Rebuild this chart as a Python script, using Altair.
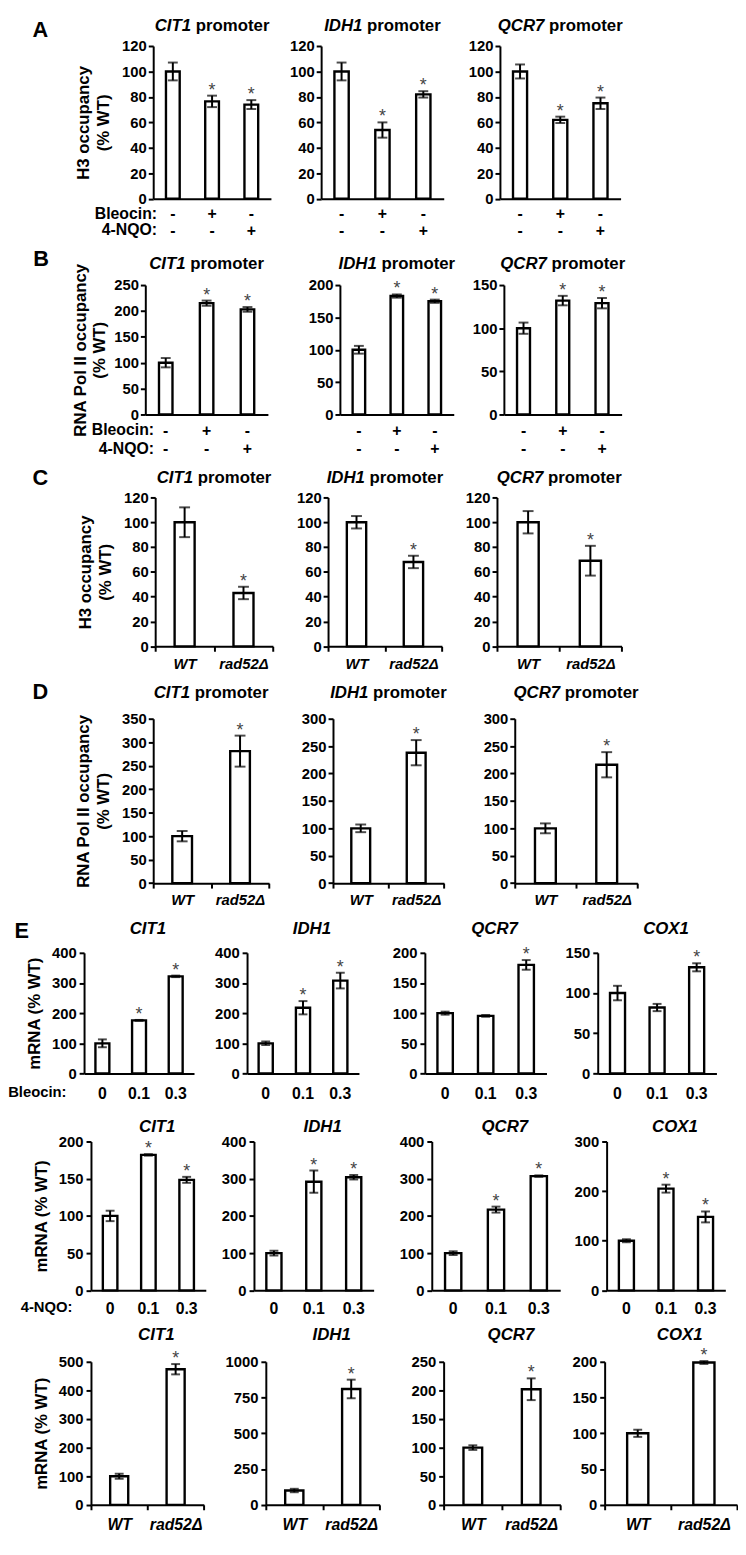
import altair as alt
import pandas as pd

FONT = "Liberation Sans, Arial, Helvetica, sans-serif"

# ------------------------------------------------------------------ data
TREATMENTS = ["-|-", "+|-", "-|+"]          # Bleocin | 4-NQO
GENOTYPES = ["WT", "rad52Δ"]
DOSES = ["0", "0.1", "0.3"]
PROMOTER_GENES = ["CIT1", "IDH1", "QCR7"]
MRNA_GENES = ["CIT1", "IDH1", "QCR7", "COX1"]

A_VALUES = [[100, 76.5, 74], [100, 54, 82], [100, 62, 75]]
A_ERRORS = [[7, 4.5, 3.5], [7, 6, 2.5], [5.5, 2.5, 4.5]]
A_SIG = [[0, 1, 1], [0, 1, 1], [0, 1, 1]]
A_YMAX = [120, 120, 120]
A_YSTEP = [20, 20, 20]

B_VALUES = [[100, 215, 203], [100, 183, 175], [100, 132, 129]]
B_ERRORS = [[9, 5, 4.5], [6, 2.5, 2.5], [6.5, 5.5, 6]]
B_SIG = [[0, 1, 1], [0, 1, 1], [0, 1, 1]]
B_YMAX = [250, 200, 150]
B_YSTEP = [50, 50, 50]

C_VALUES = [[100, 43], [100, 68], [100, 69]]
C_ERRORS = [[12, 5], [5, 5], [9, 12]]
C_SIG = [[0, 1], [0, 1], [0, 1]]
C_YMAX = [120, 120, 120]
C_YSTEP = [20, 20, 20]

D_VALUES = [[100, 281], [100, 238], [100, 216]]
D_ERRORS = [[11, 33], [7, 23], [9, 23]]
D_SIG = [[0, 1], [0, 1], [0, 1]]
D_YMAX = [350, 300, 300]
D_YSTEP = [50, 50, 50]

E1_VALUES = [[100, 176, 322], [100, 218, 308], [100, 95.5, 180], [100, 82, 132]]
E1_ERRORS = [[13, 1.5, 2.5], [6, 22, 26], [2.5, 1.5, 8], [9, 4.5, 5]]
E1_SIG = [[0, 1, 1], [0, 1, 1], [0, 0, 1], [0, 0, 1]]
E1_YMAX = [400, 400, 200, 150]
E1_YSTEP = [100, 100, 50, 50]

E2_VALUES = [[100, 182, 148.5], [100, 292, 304], [100, 217, 307], [100, 205, 148]]
E2_ERRORS = [[7, 1, 4], [6.5, 30, 6], [5, 8, 2], [3, 8, 11]]
E2_SIG = [[0, 1, 1], [0, 1, 1], [0, 1, 1], [0, 1, 1]]
E2_YMAX = [200, 400, 400, 300]
E2_YSTEP = [50, 100, 100, 100]

E3_VALUES = [[100, 474], [100, 810], [100, 202], [100, 199]]
E3_ERRORS = [[9, 18], [12, 65], [4, 19], [5, 2]]
E3_SIG = [[0, 1], [0, 1], [0, 1], [0, 1]]
E3_YMAX = [500, 1000, 250, 200]
E3_YSTEP = [100, 250, 50, 50]

Y_TITLE_H3 = ["H3 occupancy", "(% WT)"]
Y_TITLE_POL2 = ["RNA Pol II occupancy", "(% WT)"]
Y_TITLE_MRNA = "mRNA (% WT)"

# ------------------------------------------------------------------ layout (reference pixel positions)
def X(v):
    return (v - 3.0) * 0.985 + 8.0


def Y(v):
    return (v - 2.0) * 0.985


ROW_BOUNDS = [2, 235, 458, 677, 917, 1118, 1333, 1553]

GEOM = [
    dict(top=30, bottom=187, xs=[(143, 264), (314, 440), (496, 620)], title_y=10, title_dx=0,
         letter=("A", 27, 14), rowlab=(["Bleocin:", "4-NQO:"], 147), xlab_pad=7, line_h=17),
    dict(top=275, bottom=408, xs=[(134, 260), (333, 450), (500, 621)], title_y=253, title_dx=0,
         letter=("B", 27, 248), rowlab=(["Bleocin:", "4-NQO:"], 143), xlab_pad=8, line_h=19),
    dict(top=492, bottom=645, xs=[(145, 266), (321, 438), (493, 621)], title_y=472, title_dx=0,
         letter=("C", 27, 472), rowlab=None, xlab_pad=5, line_h=16),
    dict(top=718, bottom=887, xs=[(143, 262), (326, 440), (512, 638)], title_y=692, title_dx=0,
         letter=("D", 27, 691), rowlab=None, xlab_pad=5, line_h=16),
    dict(top=957, bottom=1081, xs=[(72, 185), (238, 353), (420, 545), (596, 718)], title_y=933, title_dx=9,
         letter=("E", 8, 935), rowlab=(["Bleocin:"], 54), xlab_pad=12, line_h=17),
    dict(top=1150, bottom=1303, xs=[(79, 197), (245, 368), (426, 558), (604, 726)], title_y=1135, title_dx=9,
         letter=None, rowlab=(["4-NQO:"], 60), xlab_pad=10, line_h=17),
    dict(top=1375, bottom=1522, xs=[(79, 195), (257, 374), (438, 558), (602, 738)], title_y=1348, title_dx=9,
         letter=None, rowlab=None, xlab_pad=7, line_h=16),
]

STYLE_PROM = dict(xkind="treat", xsize=16, ysize=15, ypad=2, cap=10, bw=0.35, promoter=True, tpad=9,
                  rowlab_size=16)
STYLE_GENO = dict(xkind="geno", xsize=15, ysize=15, ypad=2, cap=11, bw=0.34, promoter=True, tpad=9,
                  rowlab_size=15)
STYLE_DOSE = dict(xkind="dose", xsize=16, ysize=15, ypad=3, cap=9, bw=0.38, promoter=False, tpad=8,
                  rowlab_size=15)
STYLE_MUT = dict(xkind="geno", xsize=16, ysize=15, ypad=3, cap=9, bw=0.32, promoter=False, tpad=8,
                 rowlab_size=15)

ROWS = [
    dict(genes=PROMOTER_GENES, cats=TREATMENTS, v=A_VALUES, e=A_ERRORS, s=A_SIG, ymax=A_YMAX, ystep=A_YSTEP,
         ytitle=Y_TITLE_H3, style=STYLE_PROM),
    dict(genes=PROMOTER_GENES, cats=TREATMENTS, v=B_VALUES, e=B_ERRORS, s=B_SIG, ymax=B_YMAX, ystep=B_YSTEP,
         ytitle=Y_TITLE_POL2, style=dict(STYLE_PROM, bw=0.33, tpad=5)),
    dict(genes=PROMOTER_GENES, cats=GENOTYPES, v=C_VALUES, e=C_ERRORS, s=C_SIG, ymax=C_YMAX, ystep=C_YSTEP,
         ytitle=Y_TITLE_H3, style=STYLE_GENO),
    dict(genes=PROMOTER_GENES, cats=GENOTYPES, v=D_VALUES, e=D_ERRORS, s=D_SIG, ymax=D_YMAX, ystep=D_YSTEP,
         ytitle=Y_TITLE_POL2, style=STYLE_GENO),
    dict(genes=MRNA_GENES, cats=DOSES, v=E1_VALUES, e=E1_ERRORS, s=E1_SIG, ymax=E1_YMAX, ystep=E1_YSTEP,
         ytitle=Y_TITLE_MRNA, style=STYLE_DOSE),
    dict(genes=MRNA_GENES, cats=DOSES, v=E2_VALUES, e=E2_ERRORS, s=E2_SIG, ymax=E2_YMAX, ystep=E2_YSTEP,
         ytitle=Y_TITLE_MRNA, style=STYLE_DOSE),
    dict(genes=MRNA_GENES, cats=GENOTYPES, v=E3_VALUES, e=E3_ERRORS, s=E3_SIG, ymax=E3_YMAX, ystep=E3_YSTEP,
         ytitle=Y_TITLE_MRNA, style=STYLE_MUT),
]

BOLD_W = {"C": .722, "I": .278, "T": .611, "1": .556, "D": .722, "H": .722, "Q": .778, "R": .722,
          "7": .556, "O": .778, "X": .667, " ": .278, "p": .611, "r": .389, "o": .611, "m": .889,
          "e": .556, "t": .333}


def tw(s, size):
    return sum(BOLD_W.get(c, 0.6) for c in s) * size


ONE = pd.DataFrame({"k": [0]})
TITLE_SIZE = 17


def text_layer(text, x, y, **kw):
    props = dict(font=FONT, fontWeight="bold", color="black", baseline="middle")
    props.update(kw)
    return alt.Chart(ONE).mark_text(text=text, **props).encode(x=alt.value(x), y=alt.value(y))


def make_panel(gene, cats, vals, errs, sig, ymax, ystep, w, h, st, g, first, ytitle, extras):
    df = pd.DataFrame({"cat": cats, "val": vals, "err": errs, "sig": sig})
    df["lo"] = df["val"] - df["err"]
    df["hi"] = df["val"] + df["err"]

    xkw = dict(title=None, labelAngle=0, domainColor="black", domainWidth=2, labelColor="black",
               labelFont=FONT, labelFontSize=st["xsize"], labelFontWeight="bold",
               labelPadding=g["xlab_pad"], grid=False, ticks=(st["xkind"] == "geno"))
    if st["xkind"] == "treat":
        xkw.update(labelExpr="split(datum.label, '|')", labelLineHeight=g["line_h"])
    if st["xkind"] == "geno":
        xkw.update(tickBand="extent", tickSize=5, tickWidth=2, tickColor="black", labelFontStyle="italic")
    xenc = alt.X("cat:N", scale=alt.Scale(domain=cats, paddingInner=0, paddingOuter=0),
                 axis=alt.Axis(**xkw))

    ticks = list(range(0, ymax + 1, ystep))
    ykw = dict(values=ticks, format="d", grid=False, domainColor="black", domainWidth=2, tickColor="black",
               tickWidth=2, tickSize=5, labelColor="black", labelFont=FONT,
               labelFontSize=st["ysize"], labelFontWeight="bold", labelPadding=st["ypad"],
               titleFont=FONT, titleFontSize=17, titleFontWeight="bold", titleColor="black",
               titlePadding=st["tpad"], titleLineHeight=20)
    ykw["title"] = ytitle if first else None
    yaxis = alt.Axis(**ykw)
    ysc = alt.Scale(domain=[0, ymax], nice=False)

    base = alt.Chart(df)
    bars = base.mark_bar(fill="white", stroke="black", strokeWidth=2.4,
                         width=alt.RelativeBandSize(st["bw"])).encode(
        x=xenc, y=alt.Y("val:Q", scale=ysc, axis=yaxis))
    whisk = base.mark_rule(color="black", strokeWidth=2).encode(
        x=xenc, y=alt.Y("lo:Q", scale=ysc, axis=yaxis), y2="hi:Q")
    caps = base.transform_fold(["lo", "hi"], as_=["end", "endval"]).mark_tick(
        color="black", thickness=2, size=st["cap"]).encode(
        x=xenc, y=alt.Y("endval:Q", scale=ysc, axis=yaxis))
    stars = base.transform_filter("datum.sig == 1").mark_text(
        text="*", font=FONT, fontSize=18, color="#444", baseline="alphabetic", dy=0).encode(
        x=xenc, y=alt.Y("hi:Q", scale=ysc, axis=yaxis))

    ty = Y(g["title_y"]) - Y(g["top"])
    layers = [bars, whisk, caps, stars]
    if st["promoter"]:
        total = tw(gene, TITLE_SIZE) + tw(" promoter", TITLE_SIZE)
        left = w / 2 - total / 2 + g["title_dx"]
        layers.append(text_layer(gene, left, ty, align="left", fontSize=TITLE_SIZE, fontStyle="italic"))
        layers.append(text_layer("promoter", left + tw(gene + " ", TITLE_SIZE), ty, align="left",
                                 fontSize=TITLE_SIZE))
    else:
        layers.append(text_layer(gene, w / 2 + g["title_dx"], ty, align="center", fontSize=TITLE_SIZE,
                                 fontStyle="italic"))
    layers.extend(extras)
    return alt.layer(*layers).properties(width=w, height=h)


def spacer(w, y0=0.0, y1=1.0):
    return alt.Chart(ONE).mark_rect(opacity=0).encode(
        x=alt.value(0), x2=alt.value(1), y=alt.value(y0), y2=alt.value(y1)
    ).properties(width=max(1.0, round(w, 2)), height=1)


rows = []
for ri, (row, g) in enumerate(zip(ROWS, GEOM)):
    st = row["style"]
    top, bottom = g["top"], g["bottom"]
    H = round(Y(bottom) - Y(top), 2)
    T = Y(top) - Y(ROW_BOUNDS[ri])
    B = Y(ROW_BOUNDS[ri + 1]) - Y(bottom)
    items = []
    prev_end = None
    for pi, gene in enumerate(row["genes"]):
        x0, x1 = g["xs"][pi]
        w = round(X(x1) - X(x0), 2)
        extras = []
        if pi == 0:
            items.append(spacer(X(x0), -T, H + B))
            if g["letter"]:
                L, lx, ly = g["letter"]
                extras.append(text_layer(L, X(lx) - X(x0), Y(ly) - Y(top), align="center", fontSize=22))
            if g["rowlab"]:
                labs, rx = g["rowlab"]
                txt = labs if len(labs) > 1 else labs[0]
                extras.append(alt.Chart(ONE).mark_text(
                    text=txt, font=FONT, fontSize=st["rowlab_size"], fontWeight="bold", color="black",
                    align="right", baseline="top", lineHeight=g["line_h"]).encode(
                    x=alt.value(X(rx) - X(x0)), y=alt.value(H + g["xlab_pad"])))
        else:
            items.append(spacer(X(x0) - X(prev_end)))
        items.append(make_panel(gene, row["cats"], row["v"][pi], row["e"][pi], row["s"][pi],
                                row["ymax"][pi], row["ystep"][pi], w, H, st, g, pi == 0,
                                row["ytitle"], extras))
        prev_end = x1
    rows.append(alt.hconcat(*items, spacing=0, bounds="flush"))

chart = alt.vconcat(*rows, spacing=0).properties(padding=0).configure(
    font=FONT).configure_view(stroke="transparent", strokeWidth=0)

chart.save("out.html", embed_options={"renderer": "svg", "actions": False})
